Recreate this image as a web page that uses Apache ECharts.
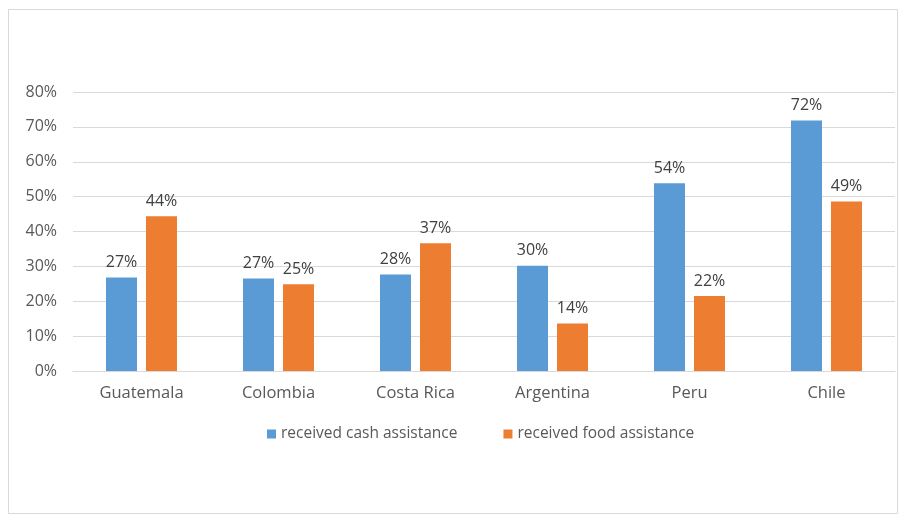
<!DOCTYPE html>
<html>
<head>
<meta charset="utf-8">
<script src="https://cdn.jsdelivr.net/npm/echarts@6/dist/echarts.min.js"></script>
<style>
  html, body { margin: 0; padding: 0; background: #fff; }
  #chart { width: 902px; height: 515px; }
</style>
</head>
<body>
<div id="chart"></div>
<script>
// data
const countries = ['Guatemala', 'Colombia', 'Costa Rica', 'Argentina', 'Peru', 'Chile'];
const cashAssist = [0.268, 0.265, 0.277, 0.302, 0.538, 0.718];
const foodAssist = [0.444, 0.249, 0.366, 0.136, 0.215, 0.486];
const yTicks = [0, 0.1, 0.2, 0.3, 0.4, 0.5, 0.6, 0.7, 0.8];

const FONT = '"Open Sans", "Noto Sans", sans-serif';
const pct = v => Math.round(v * 100) + '%';

const chart = echarts.init(document.getElementById('chart'));

const option = {
  backgroundColor: '#ffffff',
  color: ['#5b9bd5', '#ed7d31'],
  animation: false,
  textStyle: { fontFamily: FONT },
  graphic: [{
    type: 'rect',
    shape: { x: 8.5, y: 9.5, width: 889, height: 504 },
    style: { fill: 'none', stroke: '#d9d9d9', lineWidth: 1 },
    silent: true
  }],
  legend: {
    top: 421,
    left: 262,
    itemWidth: 9,
    itemHeight: 9,
    itemGap: 46,
    icon: 'rect',
    textStyle: { color: '#595959', fontSize: 15.5, fontFamily: FONT },
    data: ['received cash assistance', 'received food assistance']
  },
  grid: {
    left: 73,
    right: 7,
    top: 92,
    bottom: 515 - 371,
    containLabel: false
  },
  xAxis: {
    type: 'category',
    data: countries,
    axisLine: { lineStyle: { color: '#d9d9d9' } },
    axisTick: { show: false },
    axisLabel: { color: '#595959', fontSize: 16.5, margin: 14, fontFamily: FONT }
  },
  yAxis: {
    type: 'value',
    min: yTicks[0],
    max: yTicks[yTicks.length - 1],
    interval: 0.1,
    axisLine: { show: false },
    axisTick: { show: false },
    splitLine: { lineStyle: { color: '#d9d9d9' } },
    axisLabel: { color: '#595959', fontSize: 16, margin: 16, fontFamily: FONT, formatter: pct }
  },
  series: [{
    name: 'received cash assistance',
    type: 'bar',
    data: cashAssist,
    barWidth: 31,
    barGap: '29%',
    label: { show: true, position: 'top', distance: 7, color: '#404040', fontSize: 16, fontFamily: FONT,
      formatter: p => pct(p.value) }
  }, {
    name: 'received food assistance',
    type: 'bar',
    data: foodAssist,
    barWidth: 31,
    barGap: '29%',
    label: { show: true, position: 'top', distance: 7, color: '#404040', fontSize: 16, fontFamily: FONT,
      formatter: p => pct(p.value) }
  }]
};

chart.setOption(option);
</script>
</body>
</html>
